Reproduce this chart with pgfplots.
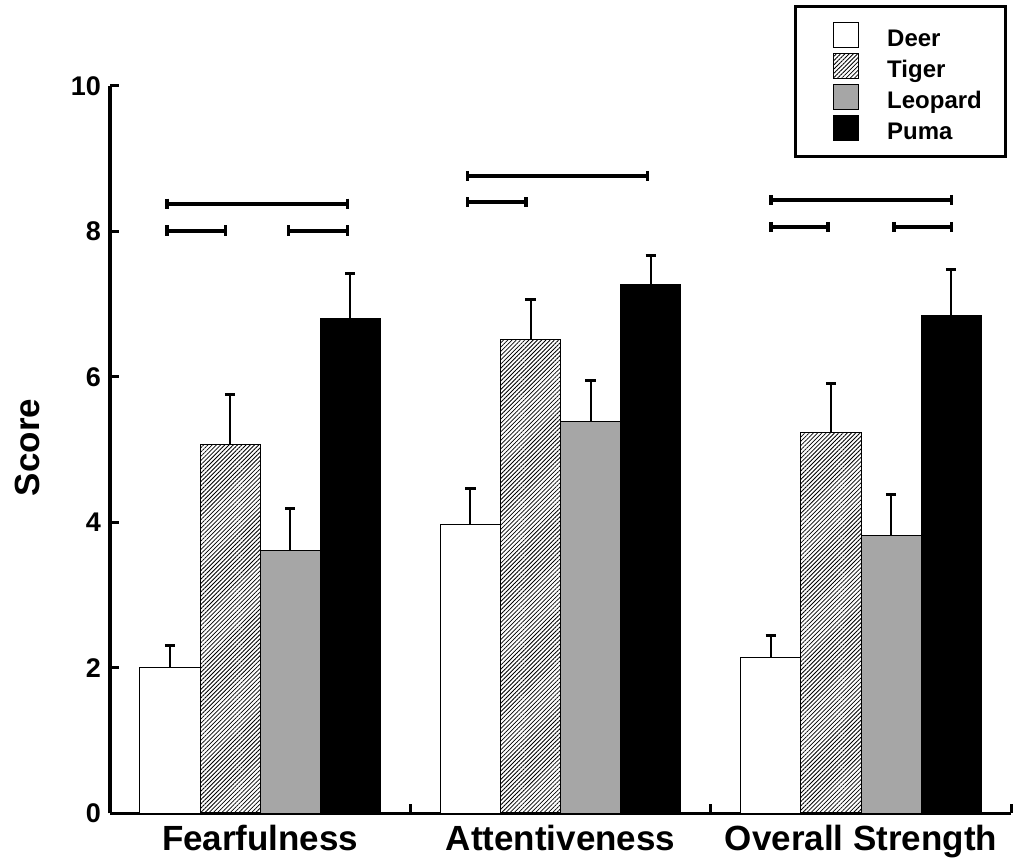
\documentclass[border=0pt]{standalone}
\usepackage{fontspec}
\setmainfont{Liberation Sans}
\usepackage{pgfplots}
\pgfplotsset{compat=1.18}
\usetikzlibrary{patterns.meta}

\definecolor{leopardgray}{RGB}{166,166,166}

% one square patch per legend entry
\pgfplotsset{
  patchlegend/.style={
    legend image code/.code={
      \path (0pt,0pt);
      \draw[##1, line width=0.5pt] (7pt,-6.25pt) rectangle (19.5pt,6.25pt);
    }
  },
  sigbar/.style={black, line width=2pt, mark=|, mark size=2.6pt,
    mark options={line width=1.6pt, solid}, forget plot},
  barplot/.style={ybar, bar width=0.2, bar shift=0pt, draw=black, line width=0.5pt,
    error bars/y dir=plus, error bars/y explicit,
    error bars/error bar style={line width=1pt, black},
    error bars/error mark options={black, line width=1.5pt, mark size=2.6pt, rotate=90}},
}

\begin{document}
\begin{tikzpicture}
\begin{axis}[
  scale only axis,
  width=451pt, height=364pt,
  xmin=-0.5, xmax=2.5, ymin=0, ymax=10,
  axis x line*=bottom, axis y line*=left,
  axis line style={line width=1.75pt},
  xtick={0,1,2},
  xticklabels={Fearfulness, Attentiveness, Overall Strength},
  major x tick style={draw=none},
  minor xtick={0.5,1.5,2.5},
  ytick={0,2,4,6,8,10},
  yticklabels={0,2,4,6,8,10},
  tick align=inside,
  major tick length=4.5pt, minor tick length=4.5pt,
  every tick/.style={black, line width=1.5pt},
  tick label style={font=\bfseries\fontsize{13.5}{16}\selectfont},
  every y tick label/.append style={font=\bfseries\fontsize{13.5}{16}\selectfont, xshift=-1pt},
  xticklabel style={font=\bfseries\fontsize{17.5}{20}\selectfont, yshift=-2.5pt},
  ylabel={Score},
  ylabel style={font=\bfseries\fontsize{17.5}{20}\selectfont,
    at={(axis description cs:-0.0915,0.503)}, anchor=center},
  clip=false,
  legend cell align=left,
  legend style={
    at={(rel axis cs:0.9956,1.1113)}, anchor=north east,
    draw=black, line width=1.5pt, fill=white,
    inner xsep=12pt, inner ysep=7.75pt,
    row sep=2.5pt,
    nodes={inner sep=0pt, text height=11.6pt, text depth=0.4pt,
      font=\bfseries\fontsize{12}{14}\selectfont},
    /tikz/every odd column/.append style={column sep=14pt},
  },
]

% Deer
\addplot[barplot, fill=white, patchlegend] table[x=x, y=y, y error=e] {
x     y     e
-0.3  2.00  0.31
0.7   3.97  0.50
1.7   2.14  0.30
};
\addlegendentry{Deer}

% Tiger
\addplot[barplot, pattern={Lines[angle=45, distance=1.5pt, line width=0.4pt]}, patchlegend] table[x=x, y=y, y error=e] {
x     y     e
-0.1  5.07  0.69
0.9   6.51  0.55
1.9   5.23  0.68
};
\addlegendentry{Tiger}

% Leopard
\addplot[barplot, fill=leopardgray, patchlegend] table[x=x, y=y, y error=e] {
x     y     e
0.1   3.62  0.57
1.1   5.39  0.56
2.1   3.82  0.56
};
\addlegendentry{Leopard}

% Puma
\addplot[barplot, fill=black, patchlegend] table[x=x, y=y, y error=e] {
x     y     e
0.3   6.80  0.62
1.3   7.27  0.40
2.3   6.85  0.62
};
\addlegendentry{Puma}

% significance brackets
\addplot[sigbar] coordinates {(-0.31,8.38) (0.29,8.38)};
\addplot[sigbar] coordinates {(-0.31,8.01) (-0.115,8.01)};
\addplot[sigbar] coordinates {(0.095,8.01) (0.29,8.01)};

\addplot[sigbar] coordinates {(0.69,8.76) (1.29,8.76)};
\addplot[sigbar] coordinates {(0.69,8.40) (0.885,8.40)};

\addplot[sigbar] coordinates {(1.70,8.43) (2.30,8.43)};
\addplot[sigbar] coordinates {(1.70,8.06) (1.89,8.06)};
\addplot[sigbar] coordinates {(2.11,8.06) (2.30,8.06)};

% page frame
\path (rel axis cs:-0.122,-0.0646) rectangle (rel axis cs:1.0011,1.1181);
\end{axis}
\end{tikzpicture}
\end{document}
